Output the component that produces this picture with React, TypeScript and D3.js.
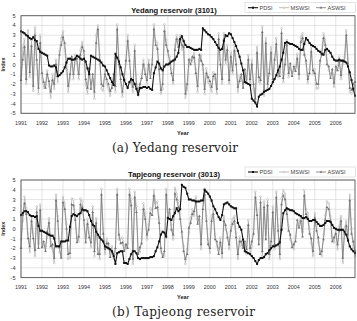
import React from 'react';
import * as d3 from 'd3';

const years = ['1991','1992','1993','1994','1995','1996','1997','1998','1999','2000','2001','2002','2003','2004','2005','2006'];
const yTicks = [5, 4, 3, 2, 1, 0, -1, -2, -3, -4, -5];
const seriesNames = ['PDSI', 'MSWSI', 'ASWSI'];

// ---- (a) Yedang reservoir (3101), monthly 1991-2006 ----
const yedangPDSI = [
  3.4, 3.3, 3.2, 3.0, 2.9, 2.7, 2.6, 2.8, 2.5, 2.4, 1.6, 1.3,
  1.2, 1.1, 1.0, 0.9, -0.1, -0.2, -0.2, -0.1, -0.3, -1.2, -1.1, -0.9,
  -0.7, -0.3, 0.2, 0.6, 0.6, 0.5, 0.5, 0.6, 0.9, 0.8, 0.6, 0.5,
  0.6, 0.3, -0.4, -1.0, 0.9, 0.8, 0.7, 0.6, 0.5, 0.4, 0.2, -0.1,
  -0.2, -0.6, -1.0, -1.4, -1.8, -2.1, 1.1, 0.7, 0.3, -0.3, -1.0, -1.6,
  -2.0, -2.4, -1.8, -1.5, -1.6, -2.0, -2.5, -3.1, -2.4, -2.4, -2.3, -2.3,
  -2.4, -2.3, -2.5, -2.6, -0.9, -0.3, 0.3, 0.1, -0.4, -0.6, -0.2, 0.0,
  0.0, 0.1, 0.3, 0.4, 0.5, 0.8, 1.2, 2.6, 2.9, 2.4, 2.0, 1.8,
  1.8, 1.7, 1.6, 1.5, 1.5, 1.5, 1.6, 1.5, 3.7, 3.5, 3.3, 3.1,
  3.0, 2.8, 2.6, 2.3, 2.0, 1.7, 1.5, 1.6, 2.4, 3.0, 2.9, 3.2,
  3.1, 2.7, 2.3, 1.9, 1.4, 0.8, 0.1, -0.6, -1.8, -1.9, -2.0, -2.1,
  -3.5, -3.7, -3.9, -4.3, -3.3, -3.1, -3.0, -2.8, -2.7, -2.6, -2.5, -2.2,
  -1.8, -1.5, -1.1, -0.6, -0.2, 0.5, 1.2, 2.2, 2.3, 2.2, 2.1, 2.1,
  2.0, 1.9, 1.8, 1.6, 1.5, 1.5, 2.1, 2.7, 2.5, 2.2, 2.0, 1.9,
  1.8, 1.6, 1.4, 1.3, 1.1, 1.0, 1.5, 1.6, 1.4, 1.2, 0.8, 0.5,
  0.4, 0.4, 0.5, 0.4, 0.4, 0.3, 0.2, -0.2, -0.8, -1.6, -2.5, -3.2,
];
const yedangMSWSI = [
  -1.2, 1.7, 2.6, -2.0, 3.5, -1.3, 2.5, -2.7, 3.8, 0.0, -3.0, 3.0,
  -1.5, -2.4, -2.0, -0.6, -2.2, -3.4, -1.0, -2.5, 0.5, -1.8, 1.4, 2.7,
  3.4, 1.5, -0.5, -2.8, -1.5, 0.5, -1.5, 1.0, 0.0, -1.5, 1.5, 2.3,
  1.0, -2.0, -3.0, -1.0, -2.0, -1.5, -3.5, 3.0, 4.0, 1.0, -2.5, -2.7,
  -0.5, -2.0, -2.5, -3.2, -2.0, -1.5, -2.8, 4.1, 0.5, -2.0, -3.3, -1.0,
  0.0, 3.0, 1.0, -2.0, -2.8, 2.0, -2.5, -3.1, -2.5, -1.0, 0.5, -0.5,
  -2.0, 0.5, -1.0, 0.5, 4.1, 2.4, 2.2, -1.0, -3.0, -2.5, 4.1, 2.5,
  1.0, 0.8, -0.5, -2.0, 2.0, 3.0, 2.3, 3.0, 1.5, 2.5, -3.4, -2.6,
  0.0, 0.6, 0.3, 1.2, -0.5, -2.8, 0.5, 1.0, -0.5, -3.0, -0.4, -1.8,
  -2.2, -2.8, -0.8, -1.5, -3.0, 3.2, 0.5, -2.0, 3.2, 0.0, 2.0, -2.0,
  1.3, -1.0, 2.0, 0.5, -2.8, -1.2, -1.5, -2.0, -1.0, -1.5, 1.0, -2.0,
  0.5, -2.5, -4.0, 1.8, -1.8, -2.0, 3.9, -3.2, 2.7, -2.5, -0.5, 1.8,
  -2.0, 0.0, 2.7, -1.3, -0.8, 3.7, -1.8, 0.5, 2.5, -1.3, -0.4, -0.8,
  -0.6, -0.3, 1.1, -1.5, 2.8, 3.2, 1.5, 0.0, -1.9, -0.5, 1.8, -1.0,
  -0.5, -2.5, -2.4, 0.0, 1.5, 3.2, 2.5, 0.5, -0.6, -1.0, -0.9, -2.3,
  -0.6, -0.2, 0.8, -1.5, 0.0, 0.8, 3.5, 0.6, -2.8, -3.0, -2.5, -2.2,
];
const yedangASWSI = [
  -1.6, 0.5, 1.8, -1.5, 2.8, -0.8, 1.9, -2.2, 3.0, 0.5, -2.4, 2.2,
  -0.9, -1.8, -2.4, -1.0, -1.7, -2.8, -1.6, -2.0, 0.0, -1.2, 1.0, 2.0,
  2.8, 2.2, 0.2, -2.2, -1.0, 0.8, -1.0, 0.5, 0.6, -1.0, 1.0, 1.8,
  1.4, -1.5, -2.4, -0.4, -2.5, -1.0, -2.8, 2.2, 3.6, 0.4, -2.0, -2.2,
  -1.0, -1.5, -2.0, -2.7, -2.4, -1.0, -2.2, 3.6, 0.0, -1.5, -2.8, -1.5,
  0.4, 2.4, 0.4, -1.6, -2.3, 1.4, -2.0, -2.7, -2.0, -1.4, 0.0, -1.0,
  -1.6, 0.0, -1.4, 0.0, 3.6, 2.0, 1.6, -0.5, -2.6, -2.0, 3.4, 2.0,
  1.4, 0.2, -0.9, -1.6, 1.5, 2.6, 1.8, 2.6, 2.0, 1.8, -3.0, -2.0,
  0.5, 0.0, 0.8, 0.7, -0.9, -2.2, 1.0, 0.4, 0.0, -2.5, -0.9, -1.3,
  -1.7, -2.3, -1.2, -1.0, -2.5, 2.6, 0.0, -1.5, 2.6, 0.5, 1.5, -1.6,
  0.8, -0.6, 1.4, 0.0, -2.3, -1.7, -1.0, -2.4, -0.5, -1.9, 0.5, -1.5,
  0.0, -2.0, -3.5, 1.2, -1.3, -1.6, 3.3, -2.7, 2.2, -2.0, -0.9, 1.2,
  -1.5, 0.5, 2.1, -0.8, -1.2, 3.2, -1.4, 0.0, 2.0, -0.9, 0.1, -1.2,
  -0.2, -0.7, 0.6, -1.0, 2.3, 2.7, 1.0, 0.4, -1.5, -0.9, 1.3, -0.6,
  -0.9, -2.0, -2.0, 0.4, 1.0, 2.7, 2.0, 0.0, -0.2, -1.4, -0.5, -1.9,
  -0.2, -0.6, 0.3, -1.1, 0.4, 0.3, 3.0, 0.1, -2.4, -2.6, -2.0, -1.8,
];

// ---- (b) Tapjeong reservoir (3013), monthly 1991-2006 ----
const tapjeongPDSI = [
  1.4, 1.6, 1.8, 1.8, 1.7, 1.4, 1.3, 1.3, 1.2, 1.3, 0.3, -0.2,
  -0.2, -0.3, -0.4, -0.5, -0.6, -0.7, -0.7, -1.0, -1.8, -1.8, -1.8, -1.3,
  -1.3, -1.3, -1.2, -1.2, 0.2, 1.3, 1.5, 1.4, 1.3, 1.5, 1.6, 2.0,
  1.9, 1.9, 1.8, 1.4, 0.8, 0.4, 0.3, -0.3, -0.6, -0.9, -1.1, -1.3,
  -1.8, -1.9, -2.0, -2.1, -2.3, -2.8, -3.6, -2.5, -2.4, -2.3, -2.3, -3.5,
  -3.5, -3.6, -3.1, -2.6, -2.3, -2.3, -2.5, -3.0, -3.1, -3.0, -3.0, -3.0,
  -3.0, -3.0, -2.9, -2.9, -2.8, -2.3, -1.9, -1.3, -0.6, -0.3, -0.4, -0.8,
  1.1, 1.0, 0.9, 1.3, 1.6, 2.1, 1.8, 2.0, 4.5, 4.3, 4.2, 3.6,
  3.0, 3.0, 2.9, 2.9, 2.8, 2.8, 2.8, 2.9, 2.9, 4.0, 3.8, 3.6,
  3.3, 2.9, 2.3, 2.0, 1.6, 1.2, 0.9, 1.4, 2.5, 2.6, 2.7, 2.5,
  2.3, 2.2, 2.1, 2.1, 0.6, 0.2, -0.1, -1.1, -2.3, -2.4, -2.5, -2.6,
  -2.8, -3.0, -3.3, -3.6, -3.2, -3.0, -3.0, -2.9, -2.6, -2.5, -2.2, -2.0,
  -1.8, -1.8, -1.7, -1.6, -1.4, -0.1, 1.6, 1.9, 2.1, 2.0, 1.9, 1.9,
  1.8, 1.6, 1.5, 1.4, 1.3, 1.1, 1.1, 1.2, 1.0, 0.8, 0.8, 0.9,
  0.9, 0.7, 0.5, 0.3, 0.3, 0.4, 0.6, 0.8, 0.8, 0.7, 0.4, 0.1,
  0.0, -0.1, -0.1, -0.1, -0.1, -0.3, -0.6, -1.2, -1.8, -2.1, -2.3, -2.5,
];
const tapjeongMSWSI = [
  -1.1, 0.8, 3.3, 2.1, -0.5, -2.4, 1.3, -0.5, -2.8, 2.3, -1.5, 2.5,
  -1.4, -1.8, -1.8, -0.8, 1.1, -1.3, -2.1, -3.5, 3.5, 1.3, -2.4, -2.8,
  3.3, 2.6, 0.5, -3.1, -3.0, 3.1, 3.0, 1.4, -0.9, -1.3, 3.1, 2.8,
  0.4, -0.9, 1.0, -0.4, -1.9, 2.3, -2.8, 1.1, -2.1, -3.1, 4.1, 0.0,
  -2.6, -1.0, -2.0, -2.5, -1.8, -3.1, -2.5, 4.1, -1.1, -1.0, -0.9, -1.8,
  -2.1, -1.5, 4.1, 3.0, -3.6, 3.8, 2.3, -2.1, -2.4, -1.0, 2.6, 1.6,
  -1.1, 0.4, 2.1, 1.9, 4.0, 2.6, 2.8, 1.1, -2.4, -2.6, -2.8, 4.1,
  1.7, 1.6, 0.4, -1.1, 4.2, 3.6, 2.8, 1.6, -0.8, -1.8, -3.6, -2.1,
  -0.4, 1.1, 2.0, 1.3, 3.3, 1.0, 0.8, -2.1, 2.6, 4.1, 1.3, -1.1,
  -2.5, 1.3, 2.0, -0.6, -1.8, -2.1, -0.9, -3.0, 1.3, -0.1, -0.4, -2.1,
  0.3, 1.0, 1.3, -0.4, -3.1, -0.8, -1.8, -1.5, -1.8, -2.6, 0.9, -2.5,
  -1.8, 0.0, 3.8, 1.9, -1.1, 3.3, -2.8, 2.8, -0.6, 3.0, -3.1, -1.8,
  2.3, -2.1, 3.8, 0.3, -3.1, 3.1, 4.0, 3.6, 2.1, 0.3, -1.1, -1.4,
  -2.1, -0.8, 0.4, 0.6, 1.3, -0.3, 4.0, 2.0, 1.6, 0.0, -1.5, -2.8,
  1.6, 0.3, -1.4, -2.1, -2.8, -0.6, 1.4, 2.8, 2.6, 1.3, -0.8, -1.4,
  0.0, -2.1, 0.3, 1.3, -3.5, 0.0, 0.8, -0.6, 3.5, 0.0, -1.8, -2.8,
];
const tapjeongASWSI = [
  -2.0, 1.4, 2.6, 1.5, -1.0, -1.8, 0.8, -1.0, -2.2, 1.7, -2.0, 1.9,
  -1.9, -1.3, -2.3, -0.3, 0.6, -1.8, -1.6, -3.0, 2.9, 0.8, -1.9, -3.0,
  2.7, 2.0, 0.0, -2.6, -2.5, 2.5, 2.4, 0.9, -1.4, -0.8, 2.5, 2.2,
  0.9, -1.4, 0.5, -0.9, -1.4, 1.7, -2.3, 0.6, -2.6, -2.6, 3.5, -0.5,
  -2.1, -1.5, -1.5, -2.9, -2.3, -2.6, -2.0, 3.5, -0.6, -1.5, -1.4, -2.3,
  -1.6, -2.0, 3.5, 2.4, -3.1, 3.2, 1.7, -2.6, -1.9, -1.5, 2.0, 1.0,
  -0.6, -0.1, 1.6, 1.4, 3.4, 2.1, 2.2, 0.6, -2.0, -2.9, -2.3, 3.5,
  1.2, 2.0, -0.1, -0.6, 3.6, 3.0, 2.2, 1.0, -0.3, -2.3, -3.1, -2.6,
  0.1, 0.6, 1.5, 1.8, 2.7, 0.5, 1.3, -1.6, 2.0, 3.5, 0.8, -1.6,
  -2.0, 0.8, 1.5, -1.1, -1.3, -2.6, -1.4, -2.5, 0.8, 0.4, -0.9, -1.6,
  -0.2, 0.5, 0.8, -0.9, -2.6, -1.3, -1.3, -2.0, -1.3, -2.1, 0.4, -2.0,
  -1.3, -0.5, 3.2, 1.4, -1.6, 2.7, -2.3, 2.2, -1.1, 2.4, -2.6, -1.3,
  1.7, -1.6, 3.2, -0.2, -2.6, 2.5, 3.4, 3.0, 1.5, -0.2, -0.6, -1.9,
  -1.6, -1.3, 0.9, 0.1, 0.8, -0.8, 3.4, 1.5, 1.1, -0.5, -1.0, -2.3,
  1.1, -0.2, -0.9, -2.6, -2.3, -1.1, 0.9, 2.2, 2.0, 0.8, -1.3, -0.9,
  -0.5, -1.6, -0.2, 0.8, -3.0, -0.5, 0.3, -1.1, 2.9, -0.5, -1.3, -2.3,
];

const SANS = '"Liberation Sans", Arial, sans-serif';
const SERIF = '"DejaVu Serif", "Liberation Serif", serif';
const COL_PDSI = '#111111';
const COL_M = '#ababab';
const COL_A = '#737373';

type PanelProps = {
  top: number;
  title: string;
  caption: string;
  captionWidth: number;
  pdsi: number[];
  mswsi: number[];
  aswsi: number[];
};

function Panel({ top, title, caption, captionWidth, pdsi, mswsi, aswsi }: PanelProps) {
  const left = 21;
  const right = 355;
  const plotTop = top;
  const plotBottom = top + 97.6;
  const n = pdsi.length;
  const x = d3.scaleLinear().domain([0, n - 1]).range([left, right]);
  const y = d3.scaleLinear().domain([-5, 5]).range([plotBottom, plotTop]);
  const line = d3.line<number>().x((_, i) => x(i)).y((d) => y(d));
  const tri = d3.symbol().type(d3.symbolTriangle).size(3.2)() as string;

  const legendY = plotTop - 8;
  const legendItems = [
    { name: seriesNames[0], x0: 248, col: COL_PDSI, w: 1.1 },
    { name: seriesNames[1], x0: 279, col: COL_M, w: 0.8 },
    { name: seriesNames[2], x0: 316, col: COL_A, w: 0.8 },
  ];

  return (
    <g>
      {yTicks.map((t) => (
        <line key={'h' + t} x1={left} x2={right} y1={y(t)} y2={y(t)} stroke="#d4d4d4" strokeWidth={0.6} />
      ))}
      {years.map((yr, i) => (
        <line key={'v' + yr} x1={x(i * 12)} x2={x(i * 12)} y1={plotTop} y2={plotBottom} stroke="#d4d4d4" strokeWidth={0.6} />
      ))}
      <path d={line(mswsi) || ''} fill="none" stroke={COL_M} strokeWidth={0.7} />
      {mswsi.map((v, i) => (
        <circle key={'m' + i} cx={x(i)} cy={y(v)} r={0.9} fill="white" stroke={COL_M} strokeWidth={0.5} />
      ))}
      <path d={line(aswsi) || ''} fill="none" stroke={COL_A} strokeWidth={0.7} />
      {aswsi.map((v, i) => (
        <path key={'a' + i} d={tri} transform={`translate(${x(i)},${y(v)})`} fill={COL_A} />
      ))}
      <path d={line(pdsi) || ''} fill="none" stroke={COL_PDSI} strokeWidth={1.1} />
      {pdsi.map((v, i) => (
        <rect key={'p' + i} x={x(i) - 1} y={y(v) - 1} width={2} height={2} fill={COL_PDSI} />
      ))}
      <rect x={left} y={plotTop} width={right - left} height={plotBottom - plotTop} fill="none" stroke="#555" strokeWidth={0.9} />
      {yTicks.map((t) => (
        <text key={'yl' + t} x={15.5} y={y(t) + 2} textAnchor="end" fontFamily={SANS} fontSize={5.6} fill="#333">{t}</text>
      ))}
      <text transform={`translate(5.2,${(plotTop + plotBottom) / 2}) rotate(-90)`} textAnchor="middle" fontFamily={SANS} fontSize={5.4} fontWeight="bold" fill="#333">Index</text>
      {years.map((yr, i) => (
        <text key={'xl' + yr} x={x(i * 12)} y={plotBottom + 11.3} textAnchor="middle" fontFamily={SANS} fontSize={5.4} fill="#333">{yr}</text>
      ))}
      <text x={183} y={plotBottom + 21.5} textAnchor="middle" fontFamily={SANS} fontSize={5.6} fontWeight="bold" fill="#222">Year</text>
      <text x={174} y={plotTop - 3.2} textAnchor="middle" fontFamily={SANS} fontSize={7.6} fontWeight="bold" fill="#111">{title}</text>
      <rect x={245} y={legendY - 5} width={110.5} height={10} fill="white" stroke="#c8c8c8" strokeWidth={0.5} />
      {legendItems.map((it, k) => (
        <g key={'lg' + k}>
          <line x1={it.x0} x2={it.x0 + 10} y1={legendY} y2={legendY} stroke={it.col} strokeWidth={it.w} />
          {k === 0 && <rect x={it.x0 + 4} y={legendY - 1} width={2} height={2} fill={it.col} />}
          {k === 1 && <circle cx={it.x0 + 5} cy={legendY} r={0.9} fill="white" stroke={it.col} strokeWidth={0.5} />}
          {k === 2 && <path d={tri} transform={`translate(${it.x0 + 5},${legendY})`} fill={it.col} />}
          <text x={it.x0 + 11.5} y={legendY + 2} fontFamily={SANS} fontSize={5.6} fill="#444">{it.name}</text>
        </g>
      ))}
      <text x={112} y={plotBottom + 38.6} fontFamily={SERIF} fontSize={12} fill="#222" textLength={captionWidth} lengthAdjust="spacing">{caption}</text>
    </g>
  );
}

export default function App() {
  return (
    <svg width={357} height={321} viewBox="0 0 357 321" style={{ position: 'absolute', left: 0, top: 0, background: 'white' }}>
      <rect x={0} y={0} width={357} height={321} fill="white" />
      <Panel top={15.7} title="Yedang reservoir (3101)" caption="(a) Yedang reservoir" captionWidth={126}
        pdsi={yedangPDSI} mswsi={yedangMSWSI} aswsi={yedangASWSI} />
      <Panel top={180} title="Tapjeong reservoir (3013)" caption="(b) Tapjeong reservoir" captionWidth={143}
        pdsi={tapjeongPDSI} mswsi={tapjeongMSWSI} aswsi={tapjeongASWSI} />
    </svg>
  );
}
